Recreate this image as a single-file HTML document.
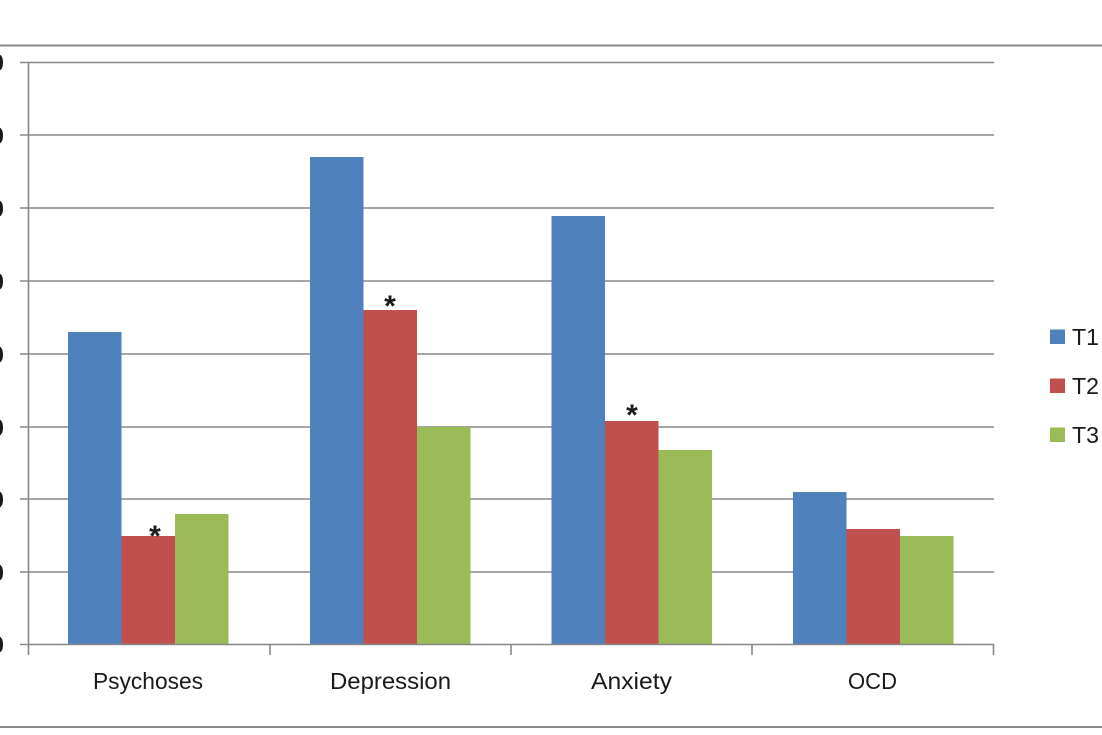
<!DOCTYPE html>
<html><head><meta charset="utf-8"><style>
html,body{margin:0;padding:0;background:#fff;}
svg{display:block;}
text{font-family:"Liberation Sans",Arial,sans-serif;fill:#1a1a1a;}
</style></head><body>
<svg width="1102" height="735" viewBox="0 0 1102 735" xmlns="http://www.w3.org/2000/svg">
<rect width="1102" height="735" fill="#fff"/>
<line x1="0" y1="45.5" x2="1102" y2="45.5" stroke="#8a8a8a" stroke-width="2"/>
<line x1="0" y1="727" x2="1102" y2="727" stroke="#8a8a8a" stroke-width="2"/>
<g stroke="#878787" stroke-width="1.6">
<line x1="20" y1="62.5" x2="994" y2="62.5"/>
<line x1="20" y1="135" x2="994" y2="135"/>
<line x1="20" y1="208" x2="994" y2="208"/>
<line x1="20" y1="281" x2="994" y2="281"/>
<line x1="20" y1="354" x2="994" y2="354"/>
<line x1="20" y1="427" x2="994" y2="427"/>
<line x1="20" y1="499" x2="994" y2="499"/>
<line x1="20" y1="572" x2="994" y2="572"/>
</g>
<g>
<rect x="68" y="332" width="53.5" height="312" fill="#4F81BD"/>
<rect x="121.5" y="536" width="53.5" height="108" fill="#C0504D"/>
<rect x="175" y="514" width="53.5" height="130" fill="#9BBB59"/>
<rect x="310" y="157" width="53.5" height="487" fill="#4F81BD"/>
<rect x="363.5" y="310" width="53.5" height="334" fill="#C0504D"/>
<rect x="417" y="427" width="53.5" height="217" fill="#9BBB59"/>
<rect x="551.5" y="216" width="53.5" height="428" fill="#4F81BD"/>
<rect x="605" y="421" width="53.5" height="223" fill="#C0504D"/>
<rect x="658.5" y="450" width="53.5" height="194" fill="#9BBB59"/>
<rect x="793" y="492" width="53.5" height="152" fill="#4F81BD"/>
<rect x="846.5" y="529" width="53.5" height="115" fill="#C0504D"/>
<rect x="900" y="536" width="53.5" height="108" fill="#9BBB59"/>
</g>
<g stroke="#878787" stroke-width="1.6">
<line x1="28.5" y1="62" x2="28.5" y2="655"/>
<line x1="20" y1="644.5" x2="994" y2="644.5"/>
<line x1="270" y1="644" x2="270" y2="655"/>
<line x1="511" y1="644" x2="511" y2="655"/>
<line x1="752" y1="644" x2="752" y2="655"/>
<line x1="993.5" y1="644" x2="993.5" y2="655"/>
</g>
<g font-size="24" text-anchor="end" font-weight="bold">
<text x="4" y="71">0</text>
<text x="4" y="144">0</text>
<text x="4" y="217">0</text>
<text x="4" y="290">0</text>
<text x="4" y="363">0</text>
<text x="4" y="436">0</text>
<text x="4" y="508">0</text>
<text x="4" y="581">0</text>
<text x="4" y="653">0</text>
</g>
<g font-size="30" text-anchor="middle" font-weight="bold">
<text x="155" y="546">*</text>
<text x="390" y="316">*</text>
<text x="632" y="425">*</text>
</g>
<g font-size="23">
<text x="93" y="689" textLength="110" lengthAdjust="spacingAndGlyphs">Psychoses</text>
<text x="330" y="689" textLength="121" lengthAdjust="spacingAndGlyphs">Depression</text>
<text x="591" y="689" textLength="81" lengthAdjust="spacingAndGlyphs">Anxiety</text>
<text x="848" y="689" textLength="49" lengthAdjust="spacingAndGlyphs">OCD</text>
</g>
<rect x="1050" y="329.5" width="15" height="14.5" fill="#4F81BD"/>
<rect x="1050" y="378.5" width="15" height="14.5" fill="#C0504D"/>
<rect x="1050" y="427.5" width="15" height="14.5" fill="#9BBB59"/>
<g font-size="23">
<text x="1072" y="345" textLength="27" lengthAdjust="spacingAndGlyphs">T1</text>
<text x="1072" y="394" textLength="27" lengthAdjust="spacingAndGlyphs">T2</text>
<text x="1072" y="443" textLength="27" lengthAdjust="spacingAndGlyphs">T3</text>
</g>
</svg>
</body></html>
